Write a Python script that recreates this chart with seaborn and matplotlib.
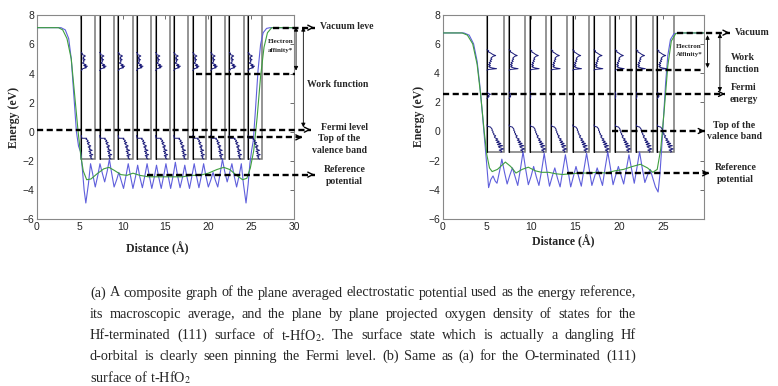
"""
Potencial electrostático promediado por plano, su promedio macroscópico y
DOS proyectada de oxígeno plano a plano para superficies (111) de t-HfO2.
"""

import pandas as pd
import seaborn as sns
from matplotlib import pyplot as plt
from matplotlib.patches import Rectangle

# ---------------- panel (a): superficie terminada en Hf ----------------
pot_a_x = [0, 2.8, 3.3, 3.7, 4.0, 4.3, 4.6, 4.85, 5.1, 5.3, 5.5,
           5.7, 6.0, 6.25, 6.5, 6.8, 7.1, 7.35, 7.6, 7.9, 8.2, 8.45, 8.7,
           9.0, 9.3, 9.55, 9.8, 10.1, 10.4, 10.65, 10.9, 11.2, 11.5, 11.75, 12.0,
           12.3, 12.6, 12.85, 13.1, 13.4, 13.7, 13.95, 14.2, 14.5, 14.8, 15.05, 15.3,
           15.6, 15.9, 16.15, 16.4, 16.7, 17.0, 17.25, 17.5, 17.8, 18.1, 18.35, 18.6,
           18.9, 19.2, 19.45, 19.7, 20.0, 20.3, 20.55, 20.8, 21.1, 21.4, 21.65, 21.9,
           22.2, 22.5, 22.75, 23.0, 23.3, 23.6, 23.85, 24.1, 24.4,
           24.65, 24.85, 25.05, 25.25, 25.5, 25.8, 26.1, 26.4, 26.8, 27.2, 30]
pot_a_y = [7.15, 7.15, 7.0, 6.4, 5.0, 2.5, 0.0, -1.0, -1.4, -2.6, -4.0,
           -4.9, -3.6, -2.2, -2.9, -3.8, -3.0, -2.2, -2.8, -3.45, -2.7, -1.9, -2.8,
           -3.8, -3.3, -2.8, -3.3, -3.9, -3.0, -2.2, -3.0, -3.9, -3.1, -2.3, -3.1,
           -3.85, -3.0, -2.2, -3.0, -3.9, -3.1, -2.3, -3.1, -3.9, -3.0, -2.2, -3.0,
           -3.9, -3.0, -2.1, -3.0, -3.85, -3.1, -2.3, -3.1, -3.9, -3.0, -2.2, -3.0,
           -3.85, -3.0, -2.2, -3.0, -3.8, -3.3, -2.8, -3.3, -3.8, -2.8, -1.9, -2.7,
           -3.45, -2.8, -2.2, -3.0, -3.8, -3.0, -2.2, -3.6, -4.9,
           -3.6, -2.2, -1.3, -0.6, 1.5, 4.2, 6.0, 6.8, 7.1, 7.15, 7.15]
avg_a_x = [0, 2.5, 3.0, 3.5, 4.0, 4.4, 4.8, 5.1, 5.4, 5.8, 6.3, 7.0, 7.8, 8.4,
           9.0, 9.8, 10.5, 11.2, 12.0, 13.0, 14.0, 15.0, 16.0, 17.0, 18.0, 19.0,
           20.0, 21.0, 21.8, 22.5, 23.3, 24.0, 24.5, 24.9, 25.3, 25.7, 26.1, 26.5,
           26.9, 27.4, 30]
avg_a_y = [7.15, 7.15, 7.0, 6.4, 5.0, 2.5, 0.0, -1.6, -2.7, -3.3, -3.25, -2.9, -2.55, -2.45,
           -2.65, -2.95, -3.0, -2.85, -3.0, -3.1, -3.1, -3.1, -3.1, -3.1, -3.0, -3.0,
           -2.85, -2.6, -2.45, -2.6, -3.0, -3.3, -3.2, -2.5, -1.3, 1.0, 3.8, 5.8,
           6.8, 7.15, 7.15]
cajas_a_izq = [5.17, 7.31, 9.48, 11.62, 13.84, 15.97, 18.19, 20.29, 22.46, 24.64]
cajas_a_der = [6.76, 8.98, 11.15, 13.29, 15.51, 17.68, 19.78, 21.96, 24.13, 26.31]
base_a = -1.88
dos_a_sup_e = [5.45, 5.38, 5.3, 5.25, 5.2, 5.12, 5.05, 5.0, 4.95, 4.88, 4.8, 4.72, 4.65,
               4.6, 4.55, 4.5, 4.45, 4.4, 4.33, 4.25, 4.2]
dos_a_sup_w = [0.0, 0.08, 0.05, 0.22, 0.3, 0.12, 0.2, 0.1, 0.28, 0.15, 0.2, 0.08, 0.22,
               0.35, 0.18, 0.45, 0.25, 0.38, 0.1, 0.05, 0.0]
dos_a_inf_e = [-0.25, -0.4, -0.45, -0.45, -0.52, -0.6, -0.68, -0.75, -0.82, -0.9, -0.98, -1.05,
               -1.12, -1.2, -1.28, -1.35, -1.42, -1.5, -1.58, -1.65, -1.72, -1.8, -1.88]
dos_a_inf_w = [0.0, 0.03, 0.05, 0.4, 0.35, 0.5, 0.42, 0.6, 0.45, 0.55, 0.7, 0.5,
               0.65, 0.58, 0.8, 0.55, 0.7, 0.62, 0.85, 0.6, 0.75, 0.68, 0.8]

# ---------------- panel (b): superficie terminada en O ----------------
pot_b_x = [0, 2.4, 3.0, 3.5, 3.9, 4.2, 4.5, 4.75, 4.95, 5.2, 5.45, 5.7, 5.95, 6.15,
           6.45, 6.7, 7.0, 7.3, 7.6, 7.9, 8.2, 8.5, 8.8, 9.1, 9.4, 9.7, 10.0, 10.3,
           10.6, 10.9, 11.2, 11.5, 11.8, 12.1, 12.4, 12.7, 13.0, 13.3, 13.6, 13.9,
           14.2, 14.5, 14.8, 15.1, 15.4, 15.7, 16.0, 16.3, 16.6, 16.9, 17.2, 17.5,
           17.8, 18.1, 18.4, 18.7, 19.0, 19.3, 19.6, 19.9, 20.2, 20.5, 20.8, 21.1,
           21.4, 21.7, 22.0, 22.3, 22.6, 22.9, 23.2, 23.5, 23.8, 24.1, 24.4,
           24.6, 24.8, 25.0, 25.25, 25.5, 25.8, 26.2, 26.7, 29.6]
pot_b_y = [6.75, 6.75, 6.6, 6.0, 4.8, 3.2, 1.2, -0.6, -2.0, -3.85, -3.3, -3.05, -3.4, -3.55,
           -2.7, -1.9, -2.8, -3.6, -3.0, -2.5, -3.1, -3.7, -2.6, -1.4, -2.6, -3.65, -3.1, -2.4,
           -3.1, -3.7, -2.7, -1.5, -2.7, -3.75, -3.1, -2.5, -3.2, -3.8, -2.7, -1.6,
           -2.7, -3.8, -3.1, -2.4, -3.1, -3.75, -2.6, -1.5, -2.6, -3.7, -3.1, -2.5,
           -3.1, -3.7, -2.5, -1.4, -2.5, -3.65, -3.0, -2.4, -3.0, -3.6, -2.6, -1.6,
           -2.6, -3.55, -2.5, -1.4, -2.5, -3.5, -3.0, -2.6, -3.2, -3.8, -4.15,
           -3.0, -1.2, 0.8, 3.3, 5.2, 6.3, 6.7, 6.75, 6.75]
avg_b_x = [0, 2.2, 2.8, 3.4, 3.9, 4.3, 4.7, 5.0, 5.3, 5.6, 6.2, 7.1, 7.7, 8.3, 9.0,
           9.7, 10.5, 11.2, 12.0, 12.8, 13.6, 14.5, 15.5, 16.5, 17.5, 18.5, 19.5,
           20.5, 21.5, 22.4, 23.2, 23.8, 24.3, 24.7, 25.1, 25.5, 25.9, 26.4, 27.0, 29.6]
avg_b_y = [6.75, 6.75, 6.6, 6.0, 4.6, 2.5, 0.0, -1.6, -2.5, -2.75, -2.6, -2.1, -2.4, -2.85, -2.6,
           -2.45, -2.7, -2.8, -2.8, -2.9, -2.95, -2.9, -2.85, -2.85, -2.8, -2.85, -2.7,
           -2.6, -2.4, -2.25, -2.5, -2.8, -2.6, -1.2, 1.5, 4.5, 6.2, 6.7, 6.75, 6.75]
cajas_b_izq = [5.02, 7.52, 9.93, 12.31, 14.73, 17.14, 19.56, 21.94, 24.32]
cajas_b_der = [6.99, 9.37, 11.74, 14.12, 16.54, 18.96, 21.37, 23.79, 26.21]
base_b = -1.43
dos_b_sup_e = [5.6, 5.52, 5.45, 5.38, 5.3, 5.25, 5.2, 5.15, 5.1, 5.02, 4.95, 4.88, 4.8,
               4.72, 4.65, 4.58, 4.5, 4.45, 4.4, 4.35, 4.3, 4.25, 4.2]
dos_b_sup_w = [0.0, 0.1, 0.08, 0.2, 0.3, 0.38, 0.5, 0.35, 0.3, 0.22, 0.28, 0.18, 0.25,
               0.12, 0.2, 0.08, 0.2, 0.1, 0.15, 0.3, 0.55, 0.1, 0.0]
dos_b_med_e = [2.7, 2.6, 2.55, 2.45, 2.4, 2.3, 2.25]
dos_b_med_w = [0.0, 0.08, 0.2, 0.05, 0.12, 0.03, 0.0]
dos_b_med_escala = [1.0, 0.8, 0.2, 0.0, 0.0, 0.0, 0.2, 0.3, 0.8]
dos_b_inf_e = [0.45, 0.35, 0.3, 0.22, 0.15, 0.08, 0.0, -0.08, -0.15, -0.22, -0.3, -0.38,
               -0.45, -0.52, -0.6, -0.68, -0.75, -0.82, -0.9, -0.98, -1.05, -1.12, -1.2,
               -1.28, -1.35, -1.43]
dos_b_inf_w = [0.0, 0.03, 0.2, 0.25, 0.3, 0.28, 0.35, 0.33, 0.4, 0.38, 0.5, 0.42,
               0.48, 0.62, 0.5, 0.7, 0.55, 0.8, 0.6, 0.9, 0.65, 0.75, 0.95, 0.7,
               0.85, 0.8]

# ---------------- pie de figura ----------------
pie_lineas = [
    "(a) A composite graph of the plane averaged electrostatic potential used as the energy reference,",
    "its macroscopic average, and the plane by plane projected oxygen density of states for the",
    "Hf-terminated (111) surface of t-HfO$_2$. The surface state which is actually a dangling Hf",
    "d-orbital is clearly seen pinning the Fermi level.    (b) Same as (a)    for the    O-terminated (111)",
    "surface of t-HfO$_2$",
]

AZUL = "#5f5fdc"
VERDE = "#3f9f3f"
MARINO = "#1a1a78"
SERIF = "Liberation Serif"

sns.set_style("white")
plt.rcParams["font.family"] = ["Liberation Sans", "DejaVu Sans"]
plt.rcParams["mathtext.fontset"] = "stix"


def flecha_discontinua(ax, x0, x1, y, cabeza=True):
    ax.plot([x0, x1], [y, y], color="k", lw=1.7, ls=(0, (2.6, 1.5)), clip_on=False, zorder=5)
    if cabeza:
        ax.annotate("", xy=(x1 + 0.3, y), xytext=(x1 - 0.6, y), annotation_clip=False,
                    arrowprops=dict(arrowstyle="->", color="k", lw=1.0, mutation_scale=9))


def flecha_doble(ax, x, y0, y1):
    ax.annotate("", xy=(x, y1), xytext=(x, y0), annotation_clip=False,
                arrowprops=dict(arrowstyle="<|-|>", color="k", lw=0.6, mutation_scale=6,
                                shrinkA=0, shrinkB=0))


def etiqueta(ax, x, y, s, size=7, **kw):
    ax.text(x, y, s, family=SERIF, weight="bold", fontsize=size, va="center",
            clip_on=False, **kw)


def panel_base(ax, pot_x, pot_y, avg_x, avg_y, izq, der, base, xmax, xticks):
    for xl, xr in zip(izq, der):
        ax.add_patch(Rectangle((xl, base), xr - xl, 8 - base, fill=False, ec="#777777", lw=1.1, zorder=2))
        ax.plot([xl, xl], [base, 8], color="k", lw=0.8, zorder=2)
    sns.lineplot(x=pot_x, y=pot_y, ax=ax, color=AZUL, lw=0.8, zorder=3)
    sns.lineplot(x=avg_x, y=avg_y, ax=ax, color=VERDE, lw=0.8, zorder=3)
    ax.set_xlim(0, xmax)
    ax.set_ylim(-6, 8)
    ax.set_xticks(xticks)
    ax.set_yticks(range(-6, 9, 2))
    ax.tick_params(direction="in", top=True, right=True, length=3, width=0.6,
                   labelsize=7.5, color="#555555", pad=2)
    for sp in ax.spines.values():
        sp.set_color("#888888")
        sp.set_linewidth(0.8)
    ax.set_xlabel("")
    ax.set_ylabel("Energy (eV)", family=SERIF, weight="bold", fontsize=8.5, labelpad=2)


def dos_en_cajas(ax, izq, der, energias, pesos, escalas=None):
    for i, (xl, xr) in enumerate(zip(izq, der)):
        f = 1.0 if escalas is None else escalas[i]
        if f == 0:
            continue
        xs = [xl + w * f * (xr - xl) for w in pesos]
        ax.plot(xs, energias, color=MARINO, lw=0.7, zorder=4)


fig = plt.figure(figsize=(7.78, 3.86), dpi=100)
ax_a = fig.add_axes([37 / 778, 1 - 219 / 386, 257 / 778, 203.7 / 386])
ax_b = fig.add_axes([442.7 / 778, 1 - 219 / 386, 261.3 / 778, 204.3 / 386])

# ----- panel (a) -----
panel_base(ax_a, pot_a_x, pot_a_y, avg_a_x, avg_a_y, cajas_a_izq, cajas_a_der, base_a, 30, range(0, 31, 5))
dos_en_cajas(ax_a, cajas_a_izq, cajas_a_der, dos_a_sup_e, dos_a_sup_w)
dos_en_cajas(ax_a, cajas_a_izq, cajas_a_der, dos_a_inf_e, dos_a_inf_w)
flecha_discontinua(ax_a, 27.6, 32.4, 7.15)
flecha_discontinua(ax_a, 18.6, 30.1, 3.99, cabeza=False)
flecha_discontinua(ax_a, 0, 32.0, 0.14)
flecha_discontinua(ax_a, 17.7, 31.0, -0.39)
flecha_discontinua(ax_a, 12.8, 32.4, -2.95)
flecha_doble(ax_a, 30.24, 7.2, 4.2)
flecha_doble(ax_a, 31.09, 7.2, 0.3)
etiqueta(ax_a, 33.0, 7.22, "Vacuum leve")
etiqueta(ax_a, 28.4, 6.19, "Electron", size=5, ha="center")
etiqueta(ax_a, 28.4, 5.57, "affinity*", size=5, ha="center")
etiqueta(ax_a, 31.5, 3.21, "Work function")
etiqueta(ax_a, 33.2, 0.28, "Fermi level")
etiqueta(ax_a, 35.3, -0.46, "Top of the", ha="center")
etiqueta(ax_a, 35.3, -1.26, "valence band", ha="center")
etiqueta(ax_a, 35.9, -2.63, "Reference", ha="center")
etiqueta(ax_a, 35.9, -3.43, "potential", ha="center")

# ----- panel (b) -----
panel_base(ax_b, pot_b_x, pot_b_y, avg_b_x, avg_b_y, cajas_b_izq, cajas_b_der, base_b, 29.6, range(0, 26, 5))
dos_en_cajas(ax_b, cajas_b_izq, cajas_b_der, dos_b_sup_e, dos_b_sup_w)
dos_en_cajas(ax_b, cajas_b_izq, cajas_b_der, dos_b_med_e, dos_b_med_w, dos_b_med_escala)
dos_en_cajas(ax_b, cajas_b_izq, cajas_b_der, dos_b_inf_e, dos_b_inf_w)
flecha_discontinua(ax_b, 26.5, 32.5, 6.77)
flecha_discontinua(ax_b, 19.8, 29.5, 4.21, cabeza=False)
flecha_discontinua(ax_b, 0, 32.0, 2.57)
flecha_discontinua(ax_b, 19.15, 29.7, 0.03)
flecha_discontinua(ax_b, 14.05, 30.2, -2.87)
flecha_doble(ax_b, 30.0, 6.6, 4.35)
flecha_doble(ax_b, 31.4, 6.72, 2.72)
etiqueta(ax_b, 33.1, 6.77, "Vacuum")
etiqueta(ax_b, 27.9, 5.81, "Electron", size=5, ha="center")
etiqueta(ax_b, 27.9, 5.24, "Affinity*", size=5, ha="center")
etiqueta(ax_b, 34.0, 5.05, "Work", ha="center")
etiqueta(ax_b, 34.0, 4.25, "function", ha="center")
etiqueta(ax_b, 34.1, 3.0, "Fermi", ha="center")
etiqueta(ax_b, 34.1, 2.2, "energy", ha="center")
etiqueta(ax_b, 33.0, 0.4, "Top of the", ha="center")
etiqueta(ax_b, 33.0, -0.36, "valence band", ha="center")
etiqueta(ax_b, 33.2, -2.48, "Reference", ha="center")
etiqueta(ax_b, 33.2, -3.26, "potential", ha="center")

fig.text(157 / 778, 1 - 249 / 386, "Distance (Å)", family=SERIF, weight="bold",
         fontsize=8.5, ha="center", va="center")
fig.text(563 / 778, 1 - 242 / 386, "Distance (Å)", family=SERIF, weight="bold",
         fontsize=8.5, ha="center", va="center")

# ----- pie de figura justificado -----
render = fig.canvas.get_renderer()
x_ini, x_fin = 90, 636
for i, linea in enumerate(pie_lineas):
    y = 1 - (293 + 21.2 * i) / 386
    if i == len(pie_lineas) - 1:
        fig.text(x_ini / 778, y, linea, family=SERIF, fontsize=10.3, va="center")
        continue
    palabras = linea.split()
    textos = [fig.text(0, y, p, family=SERIF, fontsize=10.3, va="center") for p in palabras]
    anchos = [t.get_window_extent(render).width for t in textos]
    hueco = (x_fin - x_ini - sum(anchos)) / (len(palabras) - 1)
    x = x_ini
    for t, w in zip(textos, anchos):
        t.set_x(x / 778)
        x += w + hueco

fig.savefig("out.png", dpi=100)
